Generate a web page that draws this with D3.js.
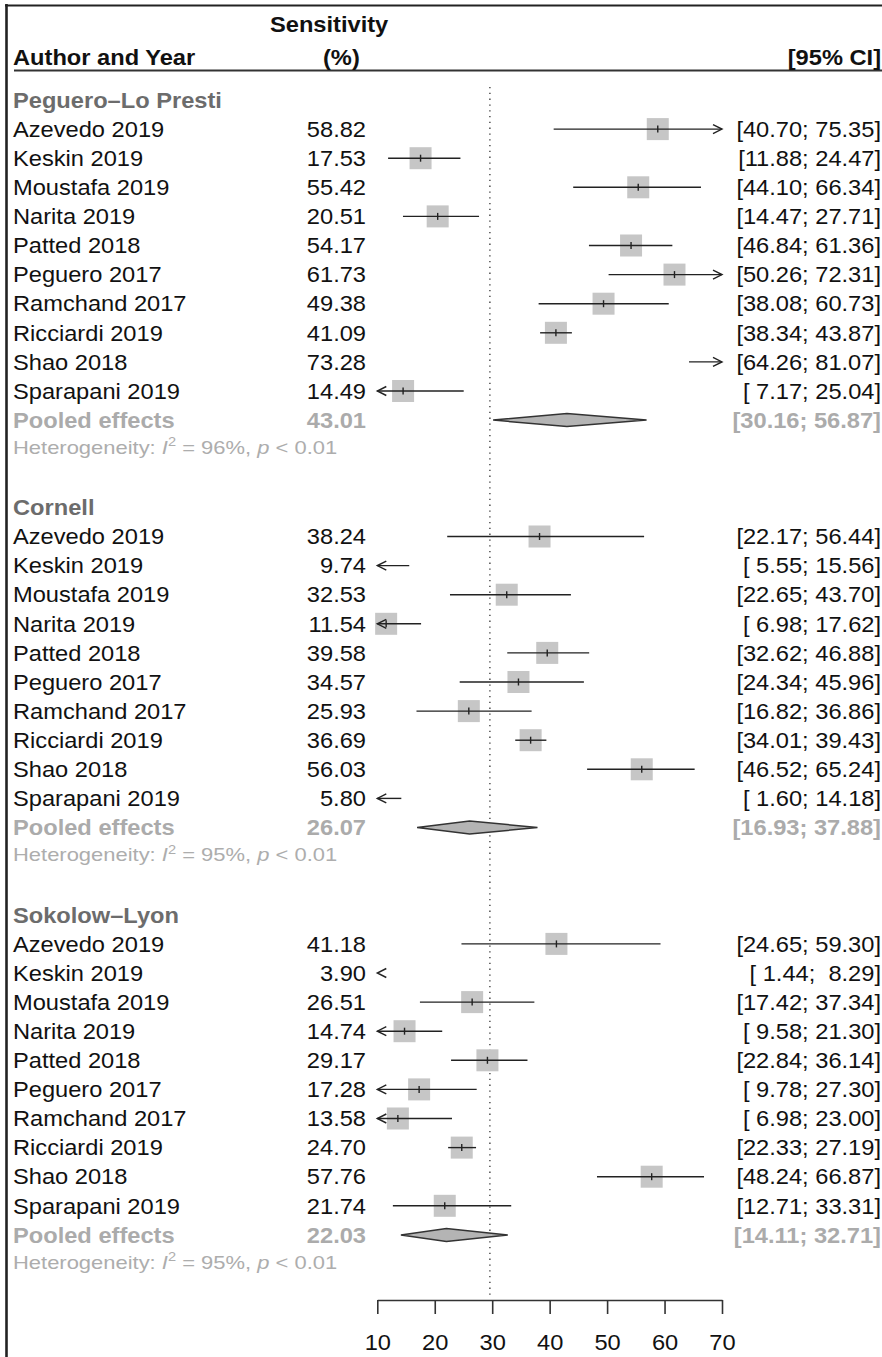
<!DOCTYPE html>
<html>
<head>
<meta charset="utf-8">
<script src="https://cdn.jsdelivr.net/npm/d3@7"></script>
<style>
  body { margin: 0; background: #fff; }
  text { font-family: "Liberation Sans", Arial, Helvetica, sans-serif; }
</style>
</head>
<body>
<svg id="chart" width="882" height="1357"></svg>
<script>
// subgroups and studies
var groups = ["Peguero\u2013Lo Presti", "Cornell", "Sokolow\u2013Lyon"];
var studies = ["Azevedo 2019", "Keskin 2019", "Moustafa 2019", "Narita 2019", "Patted 2018",
               "Peguero 2017", "Ramchand 2017", "Ricciardi 2019", "Shao 2018", "Sparapani 2019"];

// sensitivity (%) and 95% CI per criterion
var plpEst = [58.82, 17.53, 55.42, 20.51, 54.17, 61.73, 49.38, 41.09, 73.28, 14.49];
var plpLo  = [40.70, 11.88, 44.10, 14.47, 46.84, 50.26, 38.08, 38.34, 64.26, 7.17];
var plpHi  = [75.35, 24.47, 66.34, 27.71, 61.36, 72.31, 60.73, 43.87, 81.07, 25.04];

var cornellEst = [38.24, 9.74, 32.53, 11.54, 39.58, 34.57, 25.93, 36.69, 56.03, 5.80];
var cornellLo  = [22.17, 5.55, 22.65, 6.98, 32.62, 24.34, 16.82, 34.01, 46.52, 1.60];
var cornellHi  = [56.44, 15.56, 43.70, 17.62, 46.88, 45.96, 36.86, 39.43, 65.24, 14.18];

var slEst = [41.18, 3.90, 26.51, 14.74, 29.17, 17.28, 13.58, 24.70, 57.76, 21.74];
var slLo  = [24.65, 1.44, 17.42, 9.58, 22.84, 9.78, 6.98, 22.33, 48.24, 12.71];
var slHi  = [59.30, 8.29, 37.34, 21.30, 36.14, 27.30, 23.00, 27.19, 66.87, 33.31];

var pooledEst = [43.01, 26.07, 22.03];
var pooledLo  = [30.16, 16.93, 14.11];
var pooledHi  = [56.87, 37.88, 32.71];
var hetI2 = [96, 95, 95];
var hetP  = ["0.01", "0.01", "0.01"];

var refValue = 29.6;
var tickValues = [10, 20, 30, 40, 50, 60, 70];

var groupEst = [plpEst, cornellEst, slEst];
var groupLo = [plpLo, cornellLo, slLo];
var groupHi = [plpHi, cornellHi, slHi];

var svg = d3.select("#chart");
var x = d3.scaleLinear().domain([10, 70]).range([377.3, 722]);
var row = d3.scaleLinear().domain([0, 40]).range([100, 100 + 40 * 29.1]);

var SX = 1.1, FS = 21.5;
var fmt = d3.format(".2f");
function pad(v) { return (v < 10 ? " " : "") + fmt(v); }

function txt(px, py, s, o) {
  o = o || {};
  return svg.append("text")
    .attr("transform", "translate(" + px + "," + py + ") scale(" + (o.sx || SX) + ",1)")
    .attr("text-anchor", o.anchor || "start")
    .style("font-size", (o.size || FS) + "px")
    .style("font-weight", o.bold ? "bold" : "normal")
    .style("fill", o.color || "#111")
    .style("white-space", "pre")
    .text(s);
}

function arrowHead(px, py, dir) {
  // open arrow, dir = -1 left, 1 right
  svg.append("path")
    .attr("d", "M" + (px - dir * 9) + "," + (py - 4.5) + "L" + px + "," + py + "L" + (px - dir * 9) + "," + (py + 4.5))
    .attr("fill", "none").attr("stroke", "#222").attr("stroke-width", 1.4);
}

// frame
svg.append("line").attr("x1", 6.5).attr("x2", 6.5).attr("y1", 4).attr("y2", 1357)
  .attr("stroke", "#222").attr("stroke-width", 2.6);
svg.append("line").attr("x1", 5).attr("x2", 882).attr("y1", 5.5).attr("y2", 5.5)
  .attr("stroke", "#222").attr("stroke-width", 2);
svg.append("line").attr("x1", 14).attr("x2", 882).attr("y1", 70.5).attr("y2", 70.5)
  .attr("stroke", "#333").attr("stroke-width", 2.2);

var RX = 881;

// header
txt(270, 31.5, "Sensitivity", { bold: true });
txt(13, 65, "Author and Year", { bold: true });
txt(323, 65, "(%)", { bold: true });
txt(RX, 65, "[95% CI]", { bold: true, anchor: "end" });

// reference line
svg.append("line").attr("x1", x(refValue)).attr("x2", x(refValue))
  .attr("y1", 87).attr("y2", 1296)
  .attr("stroke", "#333").attr("stroke-width", 1.3).attr("stroke-dasharray", "1.3,4.5");

var SQ = 22;
var BASE = 7.7;

groups.forEach(function (gName, g) {
  var r0 = g * 14;
  txt(13, row(r0) + BASE, gName, { bold: true, color: "#6c6c6c" });

  studies.forEach(function (s, i) {
    var est = groupEst[g][i], lo = groupLo[g][i], hi = groupHi[g][i];
    var yc = row(r0 + 1 + i);
    txt(13, yc + BASE, s);
    txt(366, yc + BASE, fmt(est), { anchor: "end" });
    txt(RX, yc + BASE, "[" + pad(lo) + "; " + pad(hi) + "]", { anchor: "end" });

    if (est >= 10 && est <= 70) {
      svg.append("rect")
        .attr("x", x(est) - SQ / 2).attr("y", yc - SQ / 2)
        .attr("width", SQ).attr("height", SQ)
        .attr("fill", "#c6c6c6");
    }
    if (hi < 10) {
      arrowHead(x(10), yc, -1);
    } else if (lo > 70) {
      arrowHead(x(70), yc, 1);
    } else {
      var a = Math.max(lo, 10), b = Math.min(hi, 70);
      svg.append("line").attr("x1", x(a)).attr("x2", x(b)).attr("y1", yc).attr("y2", yc)
        .attr("stroke", "#222").attr("stroke-width", 1.4);
      if (lo < 10) arrowHead(x(10), yc, -1);
      if (hi > 70) arrowHead(x(70), yc, 1);
    }
    if (est >= 10 && est <= 70) {
      svg.append("line").attr("x1", x(est)).attr("x2", x(est))
        .attr("y1", yc - 3.5).attr("y2", yc + 3.5)
        .attr("stroke", "#222").attr("stroke-width", 1.4);
    }
  });

  // pooled effect
  var yp = row(r0 + 11);
  txt(13, yp + BASE, "Pooled effects", { bold: true, color: "#ababab" });
  txt(366, yp + BASE, fmt(pooledEst[g]), { bold: true, color: "#ababab", anchor: "end" });
  txt(RX, yp + BASE, "[" + pad(pooledLo[g]) + "; " + pad(pooledHi[g]) + "]", { bold: true, color: "#ababab", anchor: "end" });
  svg.append("path")
    .attr("d", "M" + x(pooledLo[g]) + "," + yp + "L" + x(pooledEst[g]) + "," + (yp - 6.5) +
               "L" + x(pooledHi[g]) + "," + yp + "L" + x(pooledEst[g]) + "," + (yp + 6.5) + "Z")
    .attr("fill", "#b4b4b4").attr("stroke", "#333").attr("stroke-width", 1.5);

  // heterogeneity
  var yh = row(r0 + 12) - 2;
  var t = txt(13, yh + 6.5, "", { size: 18, sx: 1.22, color: "#adadad" });
  t.append("tspan").text("Heterogeneity: ");
  t.append("tspan").style("font-style", "italic").text("I");
  t.append("tspan").attr("dy", -7.5).style("font-size", "12px").text("2");
  t.append("tspan").attr("dy", 7.5).text(" = " + hetI2[g] + "%, ");
  t.append("tspan").style("font-style", "italic").text("p");
  t.append("tspan").text(" < " + hetP[g]);
});

// axis
var axis = svg.append("g")
  .attr("transform", "translate(0,1300)")
  .call(d3.axisBottom(x).tickValues(tickValues).tickSize(14).tickSizeOuter(0).tickFormat(d3.format("d")));
axis.attr("font-size", null).attr("font-family", null);
axis.select(".domain").attr("stroke", "#333").attr("stroke-width", 1.6);
axis.selectAll(".tick line").attr("stroke", "#333").attr("stroke-width", 1.6);
axis.selectAll(".tick text")
  .attr("y", null).attr("dy", null)
  .attr("transform", "translate(0,50) scale(" + SX + ",1)")
  .style("font-size", FS + "px")
  .attr("fill", "#111");
</script>
</body>
</html>
